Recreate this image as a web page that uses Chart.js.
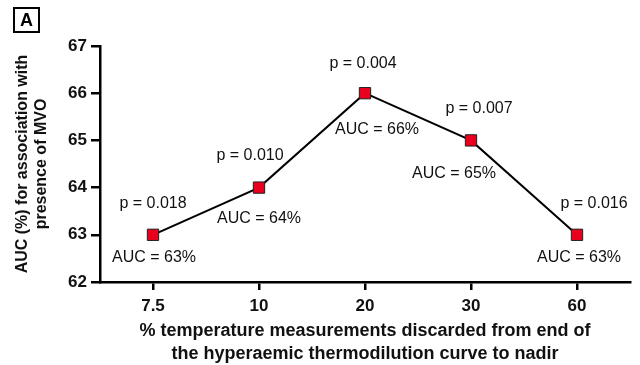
<!DOCTYPE html>
<html>
<head>
<meta charset="utf-8">
<script src="https://cdn.jsdelivr.net/npm/chart.js@4.4.0/dist/chart.umd.min.js"></script>
<style>
  html, body { margin: 0; padding: 0; background: #fff; }
  #wrap { width: 640px; height: 365px; position: relative; }
</style>
</head>
<body>
<div id="wrap"><canvas id="c" width="640" height="365"></canvas></div>
<script>
const categories = ['7.5', '10', '20', '30', '60'];
const aucValues = [63, 64, 66, 65, 63];
const pLabels = ['p = 0.018', 'p = 0.010', 'p = 0.004', 'p = 0.007', 'p = 0.016'];
const aucLabels = ['AUC = 63%', 'AUC = 64%', 'AUC = 66%', 'AUC = 65%', 'AUC = 63%'];
const yTicks = [62, 63, 64, 65, 66, 67];
const panelLabel = 'A';

const FONT = "'Liberation Sans', Arial, sans-serif";

const annotatePlugin = {
  id: 'annotate',
  afterDatasetsDraw(chart, args, opts) {
    const ctx = chart.ctx;
    const meta = chart.getDatasetMeta(0);
    ctx.save();
    ctx.font = '16px ' + FONT;
    ctx.fillStyle = '#111';
    ctx.textAlign = 'center';
    ctx.textBaseline = 'middle';
    meta.data.forEach((pt, i) => {
      const po = opts.pOffsets[i];
      const ao = opts.aOffsets[i];
      ctx.fillText(pLabels[i], pt.x + po[0], pt.y + po[1]);
      ctx.fillText(aucLabels[i], pt.x + ao[0], pt.y + ao[1]);
    });
    ctx.restore();
  }
};

const panelPlugin = {
  id: 'panel',
  afterDraw(chart) {
    const ctx = chart.ctx;
    ctx.save();
    ctx.strokeStyle = '#000';
    ctx.lineWidth = 2;
    ctx.strokeRect(14, 8, 25, 24);
    ctx.font = 'bold 18px ' + FONT;
    ctx.fillStyle = '#000';
    ctx.textAlign = 'center';
    ctx.textBaseline = 'middle';
    ctx.fillText(panelLabel, 26.5, 21);
    ctx.restore();
  }
};

new Chart(document.getElementById('c'), {
  type: 'line',
  data: {
    labels: categories,
    datasets: [{
      data: aucValues,
      borderColor: '#000',
      borderWidth: 2,
      pointStyle: 'rect',
      pointRadius: 8,
      pointHoverRadius: 8,
      pointBackgroundColor: '#e8001c',
      pointBorderColor: '#222',
      pointBorderWidth: 1,
      tension: 0,
      clip: false
    }]
  },
  options: {
    responsive: false,
    animation: false,
    events: [],
    layout: { padding: { top: 46, right: 10, left: 13, bottom: 0 } },
    plugins: {
      legend: { display: false },
      tooltip: { enabled: false },
      annotate: {
        pOffsets: [[0, -31], [-9, -32], [-2, -30], [8, -32], [17, -31]],
        aOffsets: [[1, 23], [0, 31], [12, 36], [-17, 33], [2, 23]]
      }
    },
    scales: {
      x: {
        type: 'category',
        offset: true,
        grid: { display: true, drawOnChartArea: false, drawTicks: true, tickLength: 8, color: '#000', lineWidth: 2.5 },
        border: { display: true, color: '#000', width: 2.5 },
        ticks: { color: '#111', font: { family: FONT, size: 17, weight: 'bold' }, padding: 6 },
        title: {
          display: true,
          text: ['% temperature measurements discarded from end of', 'the hyperaemic thermodilution curve to nadir'],
          color: '#111',
          font: { family: FONT, size: 18, weight: 'bold', lineHeight: 1.25 },
          padding: { top: 3, bottom: 0 }
        },
        afterFit(s) { s.height = 83; }
      },
      y: {
        min: 62, max: 67,
        afterBuildTicks(s) { s.ticks = yTicks.map(v => ({ value: v })); },
        grid: { display: true, drawOnChartArea: false, drawTicks: true, tickLength: 9, color: '#000', lineWidth: 2.5 },
        border: { display: true, color: '#000', width: 2.5 },
        ticks: { color: '#111', font: { family: FONT, size: 17, weight: 'bold' }, padding: 4 },
        title: {
          display: true,
          text: ['AUC (%) for association with', 'presence of MVO'],
          color: '#111',
          font: { family: FONT, size: 16, weight: 'bold', lineHeight: 1.2 },
          padding: { top: 0, bottom: 0 }
        },
        afterFit(s) { s.width = 87; }
      }
    }
  },
  plugins: [annotatePlugin, panelPlugin]
});
</script>
</body>
</html>
